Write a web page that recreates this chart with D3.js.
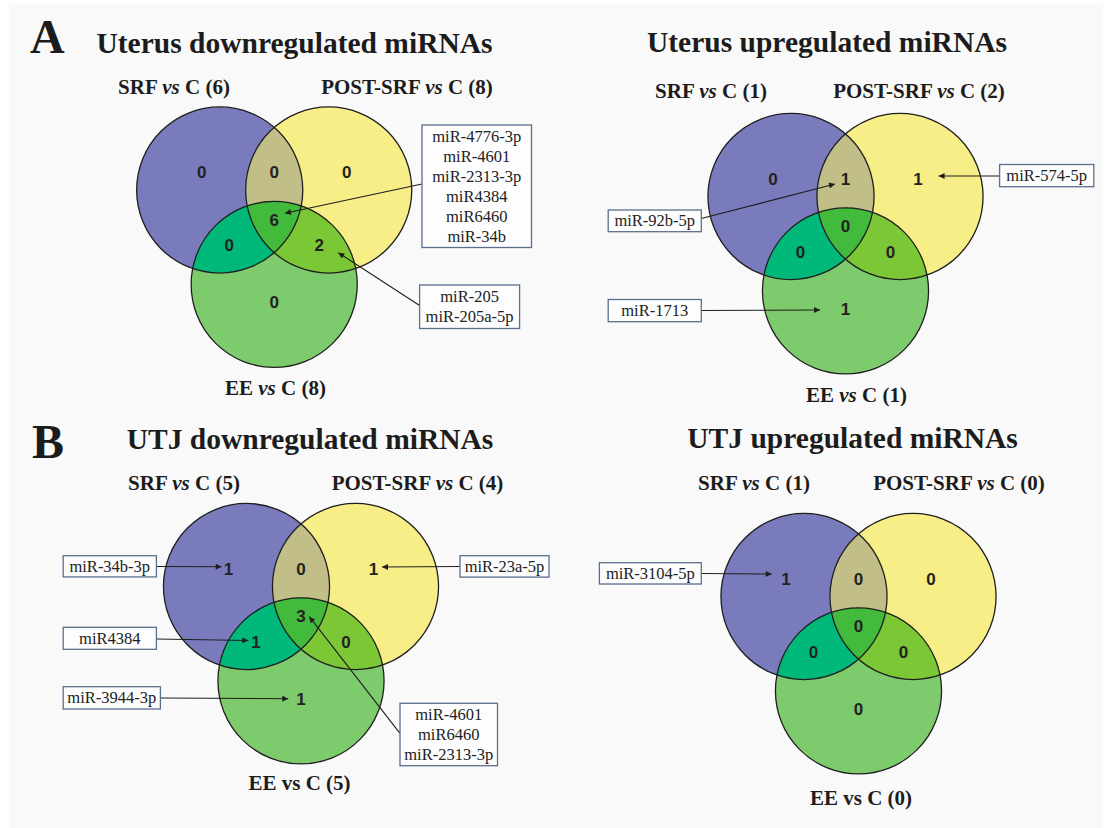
<!DOCTYPE html>
<html>
<head>
<meta charset="utf-8">
<script src="https://cdn.jsdelivr.net/npm/d3@7"></script>
<style>
  html, body { margin: 0; padding: 0; background: #ffffff; }
  svg { display: block; }
  .count { font-family: 'Liberation Sans', Arial, sans-serif; font-weight: 700; font-size: 17px; }
</style>
</head>
<body>
<script>
// ---- Data -------------------------------------------------------------
const panelLetters = ["A", "", "B", ""];
const panelTitles = [
  "Uterus downregulated miRNAs",
  "Uterus upregulated miRNAs",
  "UTJ downregulated miRNAs",
  "UTJ upregulated miRNAs"
];
const setNames = ["SRF", "POST-SRF", "EE"];
// whether the "vs" in the EE label is set in italics, per panel
const eeVsItalic = [true, true, false, false];

// Venn regions, in this order for every panel
const regionKeys = ["SRF", "SRF&POST", "POST", "ALL", "SRF&EE", "POST&EE", "EE"];
const regionCounts = [
  [0, 0, 0, 6, 0, 2, 0],
  [0, 1, 1, 0, 0, 0, 1],
  [1, 0, 1, 3, 1, 0, 1],
  [1, 0, 0, 0, 0, 0, 0]
];

// miRNAs named next to a region
const annotRegions = [
  ["ALL", "POST&EE"],
  ["SRF&POST", "POST", "EE"],
  ["SRF", "POST", "SRF&EE", "EE", "ALL"],
  ["SRF"]
];
const annotNames = [
  [["miR-4776-3p", "miR-4601", "miR-2313-3p", "miR4384", "miR6460", "miR-34b"], ["miR-205", "miR-205a-5p"]],
  [["miR-92b-5p"], ["miR-574-5p"], ["miR-1713"]],
  [["miR-34b-3p"], ["miR-23a-5p"], ["miR4384"], ["miR-3944-3p"], ["miR-4601", "miR6460", "miR-2313-3p"]],
  [["miR-3104-5p"]]
];

// ---- Layout -----------------------------------------------------------
const W = 1107, H = 828;
const colors = {
  SRF: "#7a7bbd", POST: "#f8ee87", EE: "#7ecb6d",
  "SRF&POST": "#c1bf87", "SRF&EE": "#00b87a", "POST&EE": "#7cc735", ALL: "#42bb3d"
};
// circle centres in Venn units (1 unit = distance between the two upper centres)
const circleUnits = { SRF: [0, 0], POST: [1, 0], EE: [0.5, 0.866] };
const radiusUnits = 0.762;
// where each region's count sits, in Venn units
const regionUnits = {
  SRF: [-0.165, -0.165], "SRF&POST": [0.5, -0.165], POST: [1.165, -0.165],
  ALL: [0.5, 0.275], "SRF&EE": [0.087, 0.509], "POST&EE": [0.913, 0.509], EE: [0.5, 1.028]
};
// per panel: origin (SRF centre), title, letter and set label placement
const panelLayout = [
  { ox: 219.7, oy: 190, letter: [30, 53], title: [294.5, 53],
    labels: [[174, 94], [407, 94], [275.5, 395]] },
  { ox: 791, oy: 196.5, letter: null, title: [827, 52],
    labels: [[711, 98], [919, 98], [856.5, 401.5]] },
  { ox: 246.5, oy: 586.5, letter: [32, 458], title: [310, 448.5],
    labels: [[184, 490], [417.5, 490], [299.5, 790]] },
  { ox: 804, oy: 596.5, letter: null, title: [852.6, 447.5],
    labels: [[754, 490], [959, 490], [861, 805]] }
];
// per annotation: box [x, y, w, h], arrow start [x, y], arrow tip [x, y]
const annotLayout = [
  [ { box: [422, 125, 109.5, 122.5], from: [422, 184], to: [285, 213.3] },
    { box: [419.6, 285, 100, 43.5], from: [419.6, 305.5], to: [338.3, 252.7] } ],
  [ { box: [608.2, 210, 93.1, 21.7], from: [701.3, 218.5], to: [835, 184] },
    { box: [999.6, 164.5, 94.2, 22.2], from: [999.6, 176], to: [938.6, 176] },
    { box: [608.2, 299.5, 93.1, 22.2], from: [701.3, 310.5], to: [820, 310] } ],
  [ { box: [63.2, 555.7, 93.2, 21.2], from: [156.4, 566.5], to: [221.7, 566.7] },
    { box: [460, 555.7, 89, 21.4], from: [460, 566.5], to: [382, 567] },
    { box: [63.2, 627.3, 93.2, 22], from: [156.4, 639], to: [248.3, 640.5] },
    { box: [63.2, 686.7, 97.2, 22.3], from: [160.4, 698], to: [288.3, 698.7] },
    { box: [400, 703.3, 97.5, 62.4], from: [400, 733.3], to: [309.3, 616.7] } ],
  [ { box: [599.4, 562.7, 101.9, 21.3], from: [701.3, 573.5], to: [771.7, 574] } ]
];

const serif = "'Liberation Serif', 'Times New Roman', Times, serif";

// ---- Drawing ----------------------------------------------------------
const svg = d3.select("body").append("svg")
  .attr("width", W).attr("height", H)
  .attr("viewBox", `0 0 ${W} ${H}`);

svg.append("rect").attr("width", W).attr("height", H).attr("fill", "#ffffff");
svg.append("rect").attr("x", 9).attr("y", 4).attr("width", W - 13).attr("height", H - 4)
  .attr("fill", "#f9f9f9");

const defs = svg.append("defs");
defs.append("marker")
  .attr("id", "arrowhead")
  .attr("viewBox", "0 0 10 10")
  .attr("refX", 10).attr("refY", 5)
  .attr("markerWidth", 7).attr("markerHeight", 6)
  .attr("markerUnits", "userSpaceOnUse")
  .attr("orient", "auto")
  .append("path").attr("d", "M0,0 L10,5 L0,10 Z").attr("fill", "#1e1e1e");

const unit = d3.scaleLinear().domain([0, 1]).range([0, 109]);

panelTitles.forEach((title, p) => {
  const L = panelLayout[p];
  const sx = d3.scaleLinear().domain([0, 1]).range([L.ox, L.ox + unit(1)]);
  const sy = d3.scaleLinear().domain([0, 1]).range([L.oy, L.oy + unit(1)]);
  const r = unit(radiusUnits);
  const g = svg.append("g");

  // clip paths for the SRF and POST-SRF discs
  ["SRF", "POST"].forEach(k => {
    defs.append("clipPath").attr("id", `clip-${k}-${p}`)
      .append("circle")
      .attr("cx", sx(circleUnits[k][0])).attr("cy", sy(circleUnits[k][1])).attr("r", r);
  });

  const disc = (parent, key, fill) => parent.append("circle")
    .attr("cx", sx(circleUnits[key][0])).attr("cy", sy(circleUnits[key][1]))
    .attr("r", r).attr("fill", fill);

  disc(g, "SRF", colors.SRF);
  disc(g, "POST", colors.POST);
  disc(g.append("g").attr("clip-path", `url(#clip-SRF-${p})`), "POST", colors["SRF&POST"]);
  disc(g, "EE", colors.EE);
  disc(g.append("g").attr("clip-path", `url(#clip-SRF-${p})`), "EE", colors["SRF&EE"]);
  disc(g.append("g").attr("clip-path", `url(#clip-POST-${p})`), "EE", colors["POST&EE"]);
  disc(g.append("g").attr("clip-path", `url(#clip-POST-${p})`)
        .append("g").attr("clip-path", `url(#clip-SRF-${p})`), "EE", colors.ALL);

  // outlines
  g.selectAll("circle.outline").data(["SRF", "POST", "EE"]).join("circle")
    .attr("class", "outline")
    .attr("cx", k => sx(circleUnits[k][0])).attr("cy", k => sy(circleUnits[k][1]))
    .attr("r", r).attr("fill", "none").attr("stroke", "#1f1f1f").attr("stroke-width", 1.3);

  // region counts
  g.selectAll("text.count").data(regionKeys).join("text")
    .attr("class", "count")
    .attr("x", k => sx(regionUnits[k][0]))
    .attr("y", k => sy(regionUnits[k][1]) + 6)
    .attr("text-anchor", "middle")
    .attr("fill", "#222222")
    .text((k, i) => regionCounts[p][i]);

  // panel letter and title
  if (panelLetters[p]) {
    svg.append("text").attr("x", L.letter[0]).attr("y", L.letter[1])
      .attr("font-family", serif).attr("font-weight", "bold").attr("font-size", 48)
      .attr("fill", "#1c1c1c").text(panelLetters[p]);
  }
  svg.append("text").attr("x", L.title[0]).attr("y", L.title[1])
    .attr("text-anchor", "middle")
    .attr("font-family", serif).attr("font-weight", "bold").attr("font-size", 29.5)
    .attr("fill", "#1c1c1c").text(title);

  // set labels with their totals
  const totals = [
    d3.sum([0, 1, 3, 4], i => regionCounts[p][i]),
    d3.sum([1, 2, 3, 5], i => regionCounts[p][i]),
    d3.sum([3, 4, 5, 6], i => regionCounts[p][i])
  ];
  setNames.forEach((name, s) => {
    const t = svg.append("text")
      .attr("x", L.labels[s][0]).attr("y", L.labels[s][1])
      .attr("text-anchor", "middle")
      .attr("font-family", serif).attr("font-weight", "bold").attr("font-size", 21)
      .attr("fill", "#1c1c1c");
    t.append("tspan").text(name + " ");
    const italic = s < 2 ? true : eeVsItalic[p];
    t.append("tspan").attr("font-style", italic ? "italic" : "normal").text("vs");
    t.append("tspan").text(` C (${totals[s]})`);
  });

  // annotation boxes and arrows
  annotRegions[p].forEach((region, a) => {
    const A = annotLayout[p][a];
    const names = annotNames[p][a];
    const ag = svg.append("g");
    ag.append("line")
      .attr("x1", A.from[0]).attr("y1", A.from[1])
      .attr("x2", A.to[0]).attr("y2", A.to[1])
      .attr("stroke", "#1e1e1e").attr("stroke-width", 1.1)
      .attr("marker-end", "url(#arrowhead)");
    const [bx, by, bw, bh] = A.box;
    ag.append("rect").attr("x", bx).attr("y", by).attr("width", bw).attr("height", bh)
      .attr("fill", "#fdfdfd").attr("stroke", "#5a6f8c").attr("stroke-width", 1.3);
    ag.selectAll("text").data(names).join("text")
      .attr("x", bx + bw / 2)
      .attr("y", (d, i) => by + bh / 2 - (names.length - 1) * 10 + i * 20 + 5.6)
      .attr("text-anchor", "middle")
      .attr("font-family", serif).attr("font-size", 16.5)
      .attr("fill", "#222222")
      .text(d => d);
  });
});
</script>
</body>
</html>
